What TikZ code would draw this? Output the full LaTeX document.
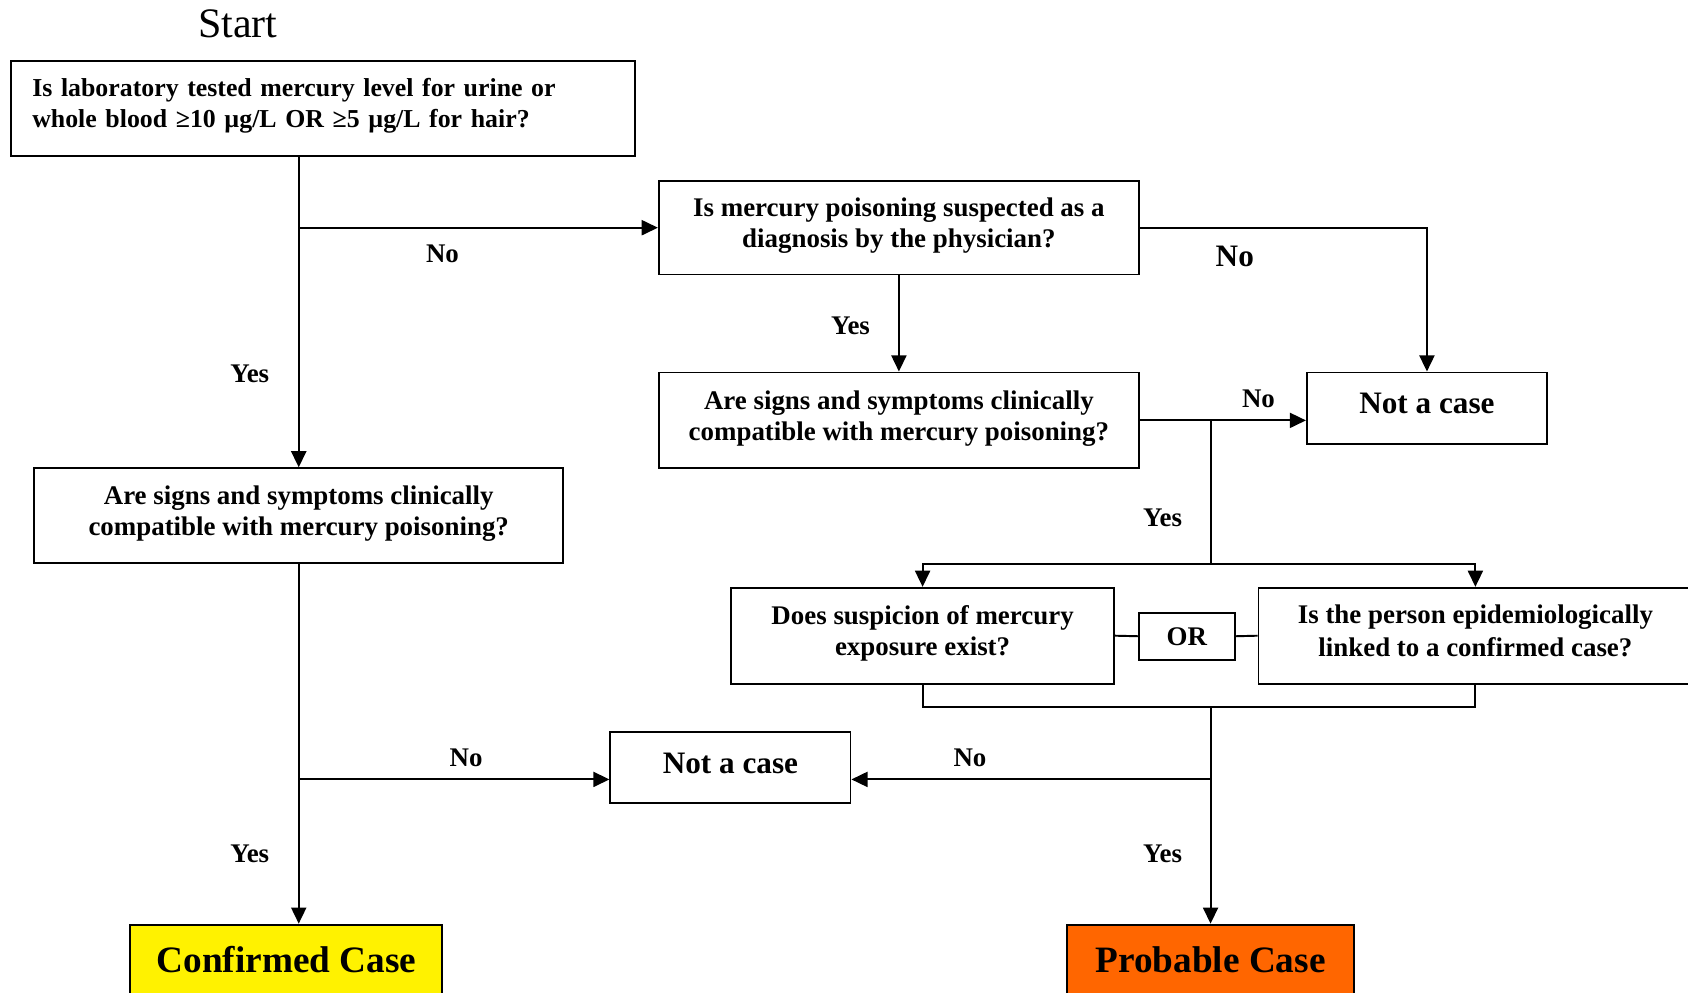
\documentclass[tikz,border=0pt]{standalone}
\usepackage{fontspec}
\setmainfont{Liberation Serif}
\usetikzlibrary{positioning,arrows.meta}
\definecolor{probable}{RGB}{255,102,0}

\begin{document}
\begin{tikzpicture}[x=0.5pt, y=-0.5pt, line width=0.9pt,
  box/.style={draw, line width=0.9pt, align=center, inner sep=0pt, text depth=4.7pt,
    font=\bfseries\fontsize{12.5}{14.5}\selectfont},
  bigbox/.style={box, text depth=4pt, font=\bfseries\fontsize{14.5}{16}\selectfont},
  result/.style={box, minimum height=39pt, text height=12pt, text depth=7pt,
    font=\bfseries\fontsize{17.3}{19}\selectfont},
  lbl/.style={font=\bfseries\fontsize{12.5}{14.5}\selectfont},
  arr/.style={-{Triangle[length=7.5pt,width=7pt]}}]
  \useasboundingbox (0,0) rectangle (1568,922);

  \node (start) at (221,22) {\fontsize{19.5}{22}\selectfont Start};
  \node[box, minimum width=290pt, minimum height=44pt, text width=270pt,
    inner xsep=10pt, align=left, text depth=20pt,
    font=\bfseries\fontsize{12}{14.5}\selectfont] (lab) at (300,101)
    {Is laboratory tested mercury level for urine or\\
     whole blood ≥10 µg/L OR ≥5 µg/L for hair?};

  % right branch
  \node[box, minimum width=223pt, minimum height=43.5pt] (phys) at (835,211.5)
    {Is mercury poisoning suspected as a\\ diagnosis by the physician?};
  \node[box, minimum width=223pt, minimum height=44.5pt] (signsR) at (835,390.5)
    {Are signs and symptoms clinically\\ compatible with mercury poisoning?};
  \node[bigbox, minimum width=111.5pt, minimum height=33pt] (nocaseR) at (1325.5,379)
    {Not a case};
  \node[box, minimum width=178pt, minimum height=44.5pt] (expo) at (857,590.5)
    {Does suspicion of mercury\\ exposure exist?};
  \node[box, minimum width=44.5pt, minimum height=22pt, text depth=0pt] (or) at (1102.5,591)
    {OR};
  \node[box, minimum width=201.5pt, minimum height=44.5pt] (epi) at (1370.5,590.5)
    {Is the person epidemiologically\\[1pt] linked to a confirmed case?};

  % left branch
  \node[box, minimum width=245.5pt, minimum height=44pt] (signsL) at (277.5,479)
    {Are signs and symptoms clinically\\ compatible with mercury poisoning?};
  \node[bigbox, minimum width=111.5pt, minimum height=33pt] (nocaseM) at (678.5,713)
    {Not a case};
  \node[result, fill=yellow, minimum width=145pt, anchor=north] (conf) at (266,858)
    {Confirmed Case};
  \node[result, fill=probable, minimum width=133.5pt, anchor=north] (prob) at (1124.5,858)
    {Probable Case};

  \coordinate (splitR) at (1124.5,390.5);
  \coordinate (barT) at (1124.5,524);
  \coordinate (barB) at (1124.5,657);
  \coordinate (splitB) at (1124.5,724);

  \draw[arr] (lab.south -| signsL.north) -- (signsL.north);
  \draw[arr] (signsL.north |- phys.west) -- (phys.west);
  \draw[arr] (phys.east) -| (nocaseR.north);
  \draw[arr] (phys.south) -- (signsR.north);
  \draw[arr] (signsR.east) -- (signsR.east -| nocaseR.west);
  \draw (splitR) -- (barT);
  \draw[arr] (barT) -| (expo.north);
  \draw[arr] (barT) -| (epi.north);
  \draw (expo.east) -- (or.west);
  \draw (or.east) -- (epi.west);
  \draw (expo.south) |- (barB) -| (epi.south);
  \draw[arr] (barB) -- (prob.north);
  \draw[arr] (splitB) -- (splitB -| nocaseM.east);
  \draw[arr] (signsL.south) -- (signsL.south |- conf.north);
  \draw[arr] (signsL.south |- splitB) -- (splitB -| nocaseM.west);

  % labels
  \node[lbl] (yesA) at (232,347) {Yes};
  \node[lbl] (noA) at (411,236) {No};
  \node[font=\bfseries\fontsize{14.5}{16}\selectfont] (noB) at (1147,238) {No};
  \node[lbl] (yesB) at (790,303) {Yes};
  \node[lbl] (noC) at (1169,370) {No};
  \node[lbl] (yesC) at (1080,481) {Yes};
  \node[lbl] (noD) at (433,704) {No};
  \node[lbl] (noE) at (901,704) {No};
  \node[lbl] (yesD) at (232,793) {Yes};
  \node[lbl] (yesE) at (1080,793) {Yes};
\end{tikzpicture}
\end{document}
